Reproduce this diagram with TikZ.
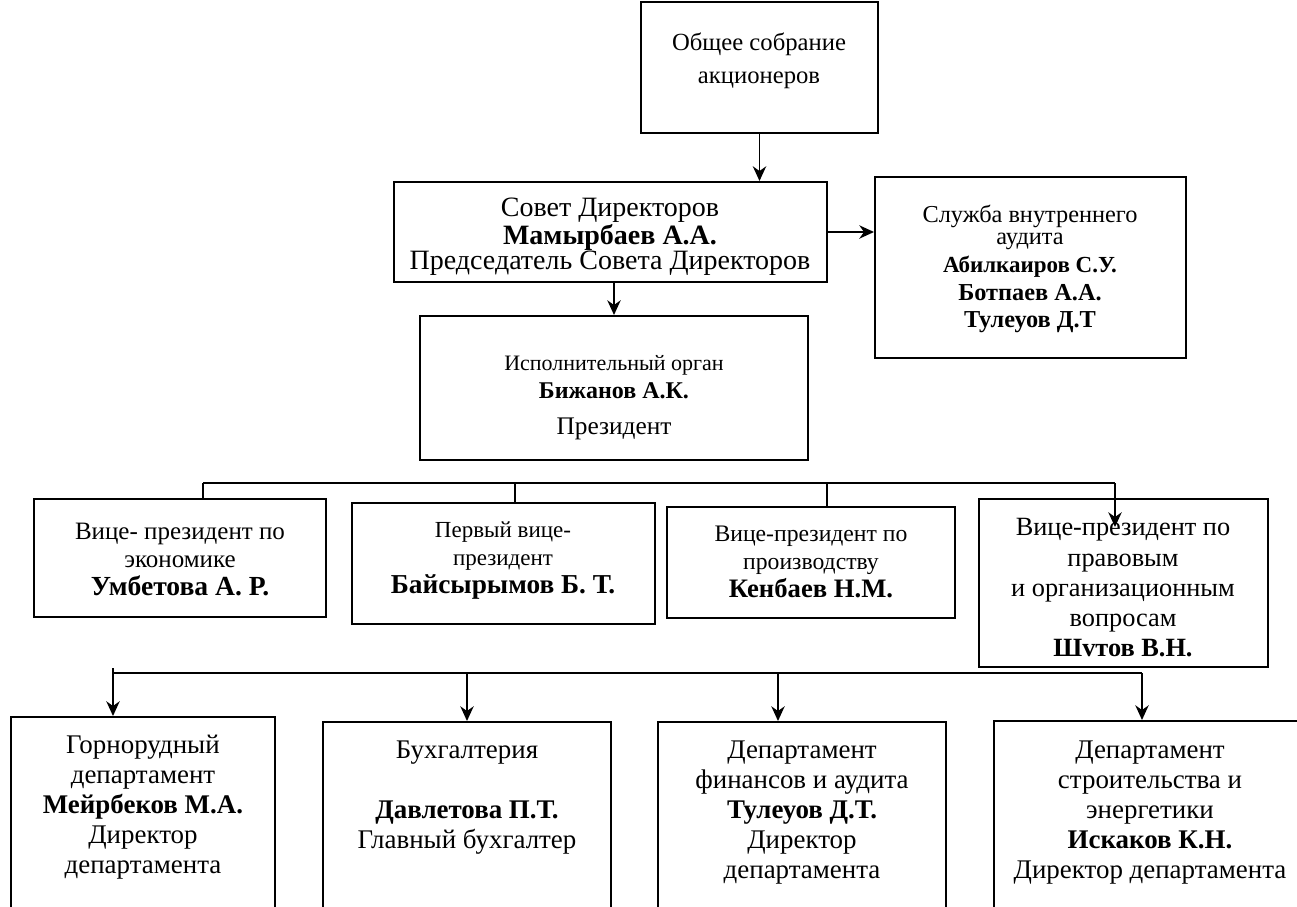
\documentclass[tikz,border=0pt]{standalone}
\usepackage{fontspec}
\setmainfont{Liberation Serif}
\usetikzlibrary{arrows.meta,fit}
\begin{document}
\begin{tikzpicture}[x=0.75pt,y=-0.75pt,
  box/.style={draw, line width=1.5pt, inner sep=0pt},
  con/.style={line width=1.3pt},
  arr/.style={con, -{Stealth[length=11pt,width=10pt,inset=3.5pt]}},
  txt/.style={align=center, inner sep=0pt}]
\clip (0,0) rectangle (1297,907);
% boxes
\node[box, fit={(641,2)(878,133)}] (top) {};
\node[box, fit={(394,182)(827,282)}] (sov) {};
\node[box, fit={(875,177)(1186,358)}] (slu) {};
\node[box, fit={(420,316)(808,460)}] (isp) {};
\node[box, fit={(34,499)(326,617)}] (vp1) {};
\node[box, fit={(352,503)(655,624)}] (vp2) {};
\node[box, fit={(667,507)(955,618)}] (vp3) {};
\node[box, fit={(979,499)(1268,667)}] (vp4) {};
\node[box, fit={(11,717)(275,960)}] (d1) {};
\node[box, fit={(323,722)(611,960)}] (d2) {};
\node[box, fit={(658,722)(946,960)}] (d3) {};
\node[box, fit={(994,721)(1320,960)}] (d4) {};
% texts
\node[txt, font=\fontsize{18.5pt}{25pt}\selectfont] (topT) at (759,61) {Общее собрание\\акционеров};
\node[txt, font=\fontsize{21pt}{19pt}\selectfont] (sovT) at (610,237) {Совет Директоров\\\textbf{Мамырбаев А.А.}\\Председатель Совета Директоров};
\node[txt, font=\fontsize{18.25pt}{16.5pt}\selectfont] (sluT) at (1030,269) {Служба внутреннего\\аудита\\[4.5pt]\fontsize{17.25pt}{16.5pt}\selectfont\textbf{Абилкаиров С.У.}\\[4pt]\textbf{Ботпаев А.А.}\\[4pt]\textbf{Тулеуов Д.Т}};
\node[txt, font=\fontsize{16.5pt}{21pt}\selectfont] (ispT) at (614,398) {Исполнительный орган\\\fontsize{18pt}{21pt}\selectfont\textbf{Бижанов А.К.}\\[6pt]\fontsize{19pt}{21pt}\selectfont Президент};
\node[txt, font=\fontsize{18.75pt}{21pt}\selectfont] (vp1T) at (180,560) {Вице- президент по\\экономике\\\fontsize{20.7pt}{21pt}\selectfont\textbf{Умбетова А. Р.}};
\node[txt, font=\fontsize{17.25pt}{21pt}\selectfont] (vp2T) at (503,561) {Первый вице-\\президент\\\fontsize{20.5pt}{21pt}\selectfont\textbf{Байсырымов Б. Т.}};
\node[txt, font=\fontsize{17.75pt}{21pt}\selectfont] (vp3T) at (811,562) {Вице-президент по\\производству\\\fontsize{20pt}{21pt}\selectfont\textbf{Кенбаев Н.М.}};
\node[txt, font=\fontsize{19.75pt}{22.7pt}\selectfont] (vp4T) at (1123,588) {Вице-президент по\\правовым\\и организационным\\вопросам\\\textbf{Шvтов В.Н.}};
\node[txt, font=\fontsize{20.2pt}{22.5pt}\selectfont] (d1T) at (143,807) {Горнорудный\\департамент\\\textbf{Мейрбеков М.А.}\\Директор\\департамента};
\node[txt, font=\fontsize{20.2pt}{22.5pt}\selectfont] (d2T) at (467,798) {Бухгалтерия\\[22.5pt]\textbf{Давлетова П.Т.}\\Главный бухгалтер};
\node[txt, font=\fontsize{20.2pt}{22.5pt}\selectfont] (d3T) at (802,813) {Департамент\\финансов и аудита\\\textbf{Тулеуов Д.Т.}\\Директор\\департамента};
\node[txt, font=\fontsize{20.2pt}{22.5pt}\selectfont] (d4T) at (1150,813) {Департамент\\строительства и\\энергетики\\\textbf{Искаков К.Н.}\\Директор департамента};
% connectors top
\draw[arr] (top.south) -- (top.south |- sov.north);
\draw[arr] (sov.east) -- (sov.east -| slu.west);
\draw[arr] (isp.north |- sov.south) -- (isp.north);
% VP bus
\coordinate (h1) at (203,483);
\coordinate (h2) at (515,483);
\coordinate (h3) at (827,483);
\coordinate (h4) at (1115,483);
\coordinate (h4e) at (1115,527);
\draw[con] (h1) -- (h4);
\draw[con] (h1) -- (h1 |- vp1.north);
\draw[con] (h2) -- (h2 |- vp2.north);
\draw[con] (h3) -- (h3 |- vp3.north);
\draw[arr] (h4) -- (h4e);
% department bus
\coordinate (b0) at (113,668);
\coordinate (b1) at (113,673);
\coordinate (b2) at (467,673);
\coordinate (b3) at (778,673);
\coordinate (b4) at (1142,673);
\draw[con] (b1) -- (b4);
\draw[arr] (b0) -- (b0 |- d1.north);
\draw[arr] (b2) -- (b2 |- d2.north);
\draw[arr] (b3) -- (b3 |- d3.north);
\draw[arr] (b4) -- (b4 |- d4.north);
\end{tikzpicture}
\end{document}
